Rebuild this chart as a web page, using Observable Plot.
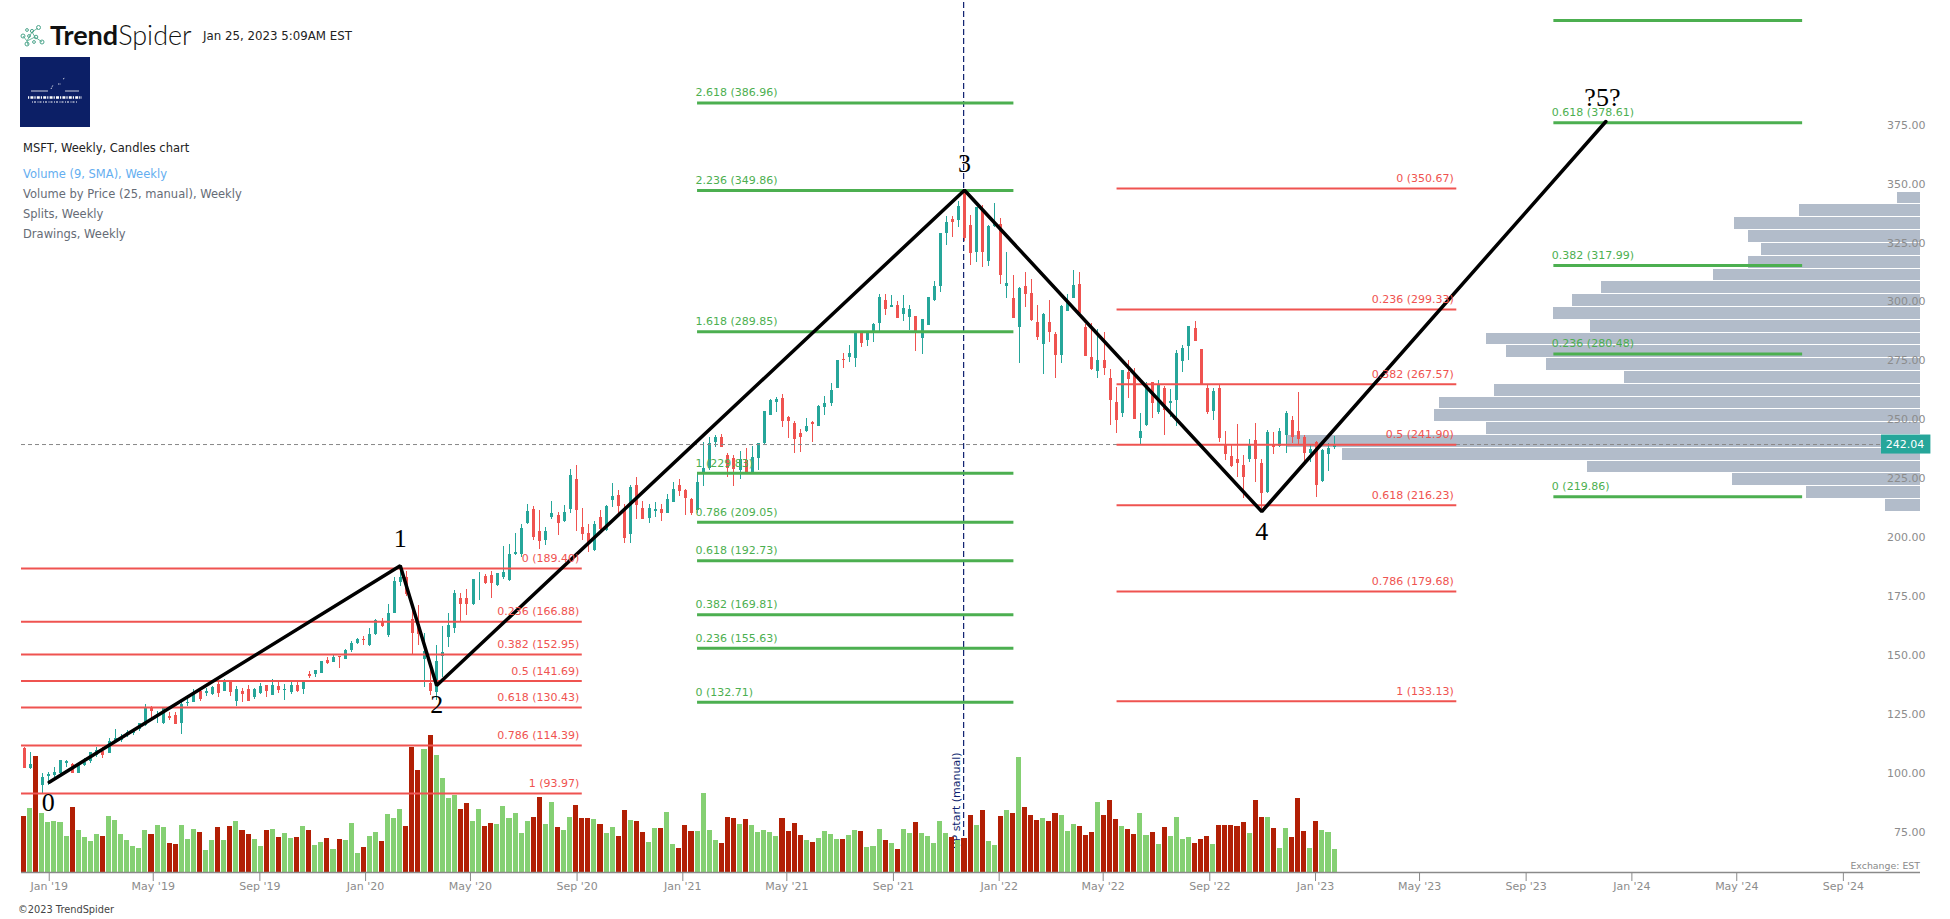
<!DOCTYPE html>
<html>
<head>
<meta charset="utf-8">
<script src="https://cdn.jsdelivr.net/npm/d3@7"></script>
<script src="https://cdn.jsdelivr.net/npm/@observablehq/plot@0.6"></script>
<style>
html,body{margin:0;padding:0;background:#fff;overflow:hidden;width:1950px;height:919px}
#chart{position:absolute;left:0;top:0}
.h{position:absolute;font-family:"DejaVu Sans",sans-serif;font-size:11.5px;white-space:nowrap;line-height:14px}
</style>
</head>
<body>
<div id="chart"></div>
<svg style="position:absolute;left:20px;top:24px" width="28" height="24" viewBox="0 0 28 24">
  <g fill="none" stroke="#4da58c" stroke-width="1">
    <path d="M7 17 L12 8 M12 8 L18 4 M12 8 L15 13 M15 13 L22 18 M15 13 L7 17 M7 17 L8 21 M3 12 L7 17" stroke="#6bb89f"/>
    <circle cx="18.5" cy="3.5" r="2"/><circle cx="7" cy="6" r="1.4"/><circle cx="12" cy="7" r="1.6"/>
    <circle cx="3" cy="12" r="2"/><circle cx="9" cy="12" r="1.4"/><circle cx="16" cy="13" r="1.8"/>
    <circle cx="22" cy="18" r="2"/><circle cx="7" cy="20" r="2"/><circle cx="14" cy="18" r="1.4"/>
  </g>
</svg>
<div class="h" style="left:50px;top:18px;font-family:Lato,sans-serif;font-size:27px;line-height:34px;color:#111"><b style="font-weight:700">Trend</b><span style="font-weight:300">Spider</span></div>
<div class="h" style="left:203px;top:29px;font-size:11.8px;color:#222">Jan 25, 2023 5:09AM EST</div>
<svg style="position:absolute;left:20px;top:57px" width="70" height="70" viewBox="0 0 70 70">
  <rect width="70" height="70" fill="#0c1f66"/>
  <g stroke="#fff" stroke-width="0.8" fill="none">
    <path d="M11 34 H28 M45 34 H59"/>
    <path d="M31 32 L33 28 M38 27 H41 M43 22 L45 21" stroke-dasharray="1.5 1"/>
    <path d="M8 40.5 H62" stroke-width="2.4" stroke-dasharray="1.2 1.2 3 1"/>
    <path d="M12 45 H58" stroke-width="1.2" stroke-dasharray="1 1 2 1.5"/>
  </g>
</svg>
<div class="h" style="left:23px;top:141px;color:#222">MSFT, Weekly, Candles chart</div>
<div class="h" style="left:23px;top:167px;color:#64aef0">Volume (9, SMA), Weekly</div>
<div class="h" style="left:23px;top:187px;color:#666c76">Volume by Price (25, manual), Weekly</div>
<div class="h" style="left:23px;top:207px;color:#666c76">Splits, Weekly</div>
<div class="h" style="left:23px;top:227px;color:#666c76">Drawings, Weekly</div>
<div class="h" style="left:18px;top:903px;font-size:9.8px;color:#444">©2023 TrendSpider</div>
<div class="h" style="right:30px;top:859px;font-size:9.4px;color:#8a8a8a">Exchange: EST</div>
<script>
// ---- weekly candles, Dec 3 2018 to Jan 23 2023
const high = [
113.4,111.4,108,102.6,102.9,105,108,108,106.9,106.6,
108.7,111.4,113.4,113.4,117.3,121.1,118.9,120.7,120.7,123.5,
131.8,130.9,128.9,130.6,128.4,128.5,133.4,135.6,138,138,
138.4,139.4,141.2,142.2,141.9,139.4,138.7,139.8,138.7,140.5,
139.8,142.4,140.9,140.2,140.9,141.4,141.2,145.6,146.2,150,
151.5,152.4,152.1,154.9,158.6,159.6,160.6,163.8,167.7,168.1,
174.2,185.5,190.7,188.2,171.6,173.7,162,146.2,156.8,164.8,
170.2,180,178.7,180.4,184.9,187.9,186.8,188.2,187.5,198.8,
199.6,204.4,208.1,216.6,215.7,214,206.7,217.9,213,216.2,
231.4,233.1,214.8,208.1,209.3,214,216,225.4,222.5,216.6,
224.5,227.9,217.7,216.6,217.4,216.6,220.7,225.8,227,223.1,
219.3,230,242.8,244.9,245.7,246.3,238.1,237.4,239.1,240.4,
241.2,242.6,256,261,261.8,263.3,253.9,251.7,248.3,253.1,
251.7,258.5,262.4,267.8,277.9,280.5,284,289.7,290.1,289.7,
293.2,305.7,305.7,305.3,302.7,305.3,301,296.4,294.9,304.3,
311.2,331.7,338.8,339,345.3,349.8,339.2,342.8,343.5,335,
344.4,337.8,323.7,313.8,308.5,315.2,311.9,301,297.5,303.2,
289.4,301,305.6,315.9,315,293,293.3,290.7,289.7,273.9,
266.4,273.4,277.7,274.2,255.1,268.5,268.4,269.2,266.7,265.4,
281.9,284.1,292.1,294.2,282.4,267.1,265.7,267.1,247.6,241.9,
250.5,237.4,244.2,251,235.7,248,247.1,248.8,256,253.9,
264.1,245.9,242,243.5,239.8,242.3,245.4];
const open = [
112.9,104.5,106.5,97.4,101.2,101.5,102.3,106.7,106.2,102.5,
105.9,107.6,110.1,111.7,111.1,115.9,116.5,118.6,119.6,121,
122.7,130.2,127.1,123.5,126.8,127.1,123.8,132.3,132.7,137.3,
136.6,136.1,140.1,137.4,141.6,133,137.3,138.1,134.7,136.4,
139.8,135.7,139.4,137.8,136.8,139.8,138.1,144.6,144.5,144.9,
150.4,149.7,152.1,150.8,154.5,157.8,159.2,156.8,161.4,166.7,
160.9,170.3,183.5,185.6,167.7,165.9,150.8,140.5,137,152.2,
160.2,164,176.7,176.7,174.2,183.4,186,186.3,182.2,185.5,
184.3,195.2,195.4,208.4,214.5,205,201.3,211.2,211.8,209.4,
214.6,227.2,206.8,204.3,197.1,211.1,205.6,218.3,220.4,214,
203.9,224.5,214.8,210.8,213.8,214.3,212.9,217.6,224.5,222.5,
218.9,214,229.2,231.7,242.8,244.9,237.4,236,231,235.3,
230.3,236.1,242.3,254.5,259.9,261.6,253.4,250.8,246.6,247.6,
251.4,249.8,257.8,259.3,265.9,278,279,278.7,289.7,286.2,
289.7,293.2,303.1,300.3,301,297.2,296.1,296.4,287,292.5,
303.2,309.2,331.4,337.5,337.1,348.7,335,323.7,341.3,319.7,
334.5,335.4,309.2,303.9,291.8,309.1,306,293.7,284.6,294,
288.6,280,298.6,304.1,309.8,291.8,279,273.2,277.7,269.9,
259.7,255.4,272.6,272,244.6,250,268.4,255.8,265.8,259.3,
260.7,277.4,283.6,291.3,282.4,265.8,256,265.8,242,237,
235.7,233.1,235.7,243.8,234,221.6,242,241.2,245.9,252.2,
247.6,245,238.2,243,226.4,237.8,240.8];
const close = [
104.7,106.3,98.2,100.8,102.2,102.9,108,107.6,102.3,106.2,
107.3,111.4,112.4,110.1,116,117.5,117.6,120,120.4,123.5,
130.2,128.9,127.5,130,125.7,123.4,131.8,132.6,136.8,133.9,
137.4,139,136.6,141.9,137,138.1,136.1,133,138,139.4,
137.3,139.8,137.7,138,139.8,137.3,141.2,143.6,146.2,150,
149,151.7,151.8,154.6,157.8,159.2,158.9,161.4,167.4,164.8,
170.3,183.9,185.6,178.4,161.9,161.4,154.2,137.3,150,153.7,
165.1,178.8,174.2,174.2,184.8,183.5,182.9,182.9,187.5,187.9,
195.4,196.4,206.3,213.6,202.4,200.9,205,212.6,208.7,213,
228.9,214.2,203.9,200.2,208.1,205.8,215.7,220,215.7,202.3,
223.7,216.2,210.4,215,214.3,212.9,218.7,222.8,222.3,219.1,
212.6,225.8,231.7,242.3,245.2,240.9,232,231.4,235.5,229.9,
236.7,242.3,256,260.7,261,251.8,251.9,244,244.9,249.7,
250.7,258.2,259.3,264.8,277.7,277.7,280.7,289.4,284.8,289.4,
292.8,304.3,299.3,301,295.6,299.6,299.3,289,294.9,304.3,
309.1,331.7,336.2,336.4,343,329.3,322.9,342.8,323.7,334.6,
336.4,313.8,310.2,295.7,308.2,305.7,294.7,287.6,297.2,289.7,
280,300.6,302.4,309.5,297.5,279.5,273.9,277.7,274.5,260.7,
252.2,273.4,269.6,252.7,247.6,267.5,259.6,267.5,256.5,260.3,
280.7,282.9,292.1,285.8,267.5,255.6,264.5,244.6,237.8,232.7,
234,228,242,235.7,221.3,247.1,240.8,247.6,255.2,245,
244.2,238.2,239.9,224.7,239.5,240.4,242.04];
const low = [
104.5,104,97,94.1,97.5,100.9,102,105,102.3,102.3,
105.4,106.9,109.4,108.8,110.8,115.8,115.6,117.9,118.6,120.4,
122.4,125.7,123.5,123.3,125,123.3,119,130.9,132.5,133,
135.1,135.6,134.9,137.3,135.1,130.9,132.6,133,133.7,136,
134.9,135.4,136.6,133.4,136.1,136.8,136,142.8,143.3,144.8,
148.7,149.4,147,150.7,153.8,157.2,156.9,156.5,161.2,164.5,
160.3,170.2,181.9,177.6,152.5,156.8,139.1,135.6,133.4,143.3,
156.1,162,166.5,169.5,173.9,175.9,182.7,176.8,181.8,184.6,
184.1,195,194,208.1,201.3,197.6,199.2,210.1,203.4,208.9,
212.6,205.3,201.3,196.4,196.8,204.8,205.3,215.5,212.9,199.9,
200.2,210.1,210.1,208.4,211.2,209.5,212.6,217.3,220,211.9,
211.9,212.6,224.4,231,240.9,240.6,228.2,224.4,227.2,229.6,
230,231,242,254.2,255.8,249.4,244.7,238.4,238.8,247.3,
242.8,249.5,254.3,258.2,265.7,274.2,277,274.9,283.3,283.8,
285.3,289,296.9,300,295.4,294.2,290.4,281.6,280.2,292.5,
302.9,306.7,326.5,329.7,334,328.3,318,319.4,317.3,317.6,
334.3,310,304.1,295.4,276.3,300.3,294.4,286.2,271.8,285.5,
269.9,276.3,298.6,303.9,296.8,279.4,273.5,269.9,271.3,250.1,
246.9,253.7,261.4,252.7,241.9,249.7,253.2,254.8,245.9,253.7,
249.7,272.7,277.7,285.6,267.5,254.8,252.2,243,235.3,232.4,
228.2,219.3,234.3,225.9,214.1,221.3,237.8,240.8,238.1,242.3,
242,234.4,234.4,219.6,226.1,230.6,240.1];
// weekly volume bars (relative height, peak week = 412)
const volume = [
169,193,349,178,151,154,151,109,196,127,
106,94,115,109,169,157,115,97,79,73,
127,115,142,136,88,85,142,100,130,121,
67,97,136,97,139,154,127,115,100,79,
127,130,106,118,103,106,139,127,82,91,
103,70,100,97,148,58,76,109,121,94,
175,163,190,139,376,307,370,412,352,283,
223,232,190,208,154,190,139,148,145,199,
163,178,118,154,166,226,145,211,136,127,
166,202,163,163,160,145,118,136,109,187,
157,154,121,91,133,133,181,85,73,142,
124,124,238,127,97,88,166,163,145,160,
142,121,127,121,109,163,124,148,112,97,
91,103,124,115,100,100,112,127,124,76,
79,130,97,88,70,130,118,151,118,109,
88,154,118,106,97,103,172,142,187,94,
82,169,187,178,346,196,172,157,163,154,
178,172,124,145,139,112,121,211,172,217,
160,139,130,115,178,112,121,85,136,109,
166,100,106,88,100,109,85,142,142,142,
139,151,118,217,166,166,133,73,133,106,
223,124,73,154,127,121,70];
// volume by price, 25 rows, top to bottom
const vpFloor = [343.67,338.24,332.81,327.38,321.94,316.51,311.08,305.65,300.22,294.78,289.35,283.92,278.49,273.06,267.62,262.19,256.76,251.33,245.90,240.46,235.03,229.60,224.17,218.73,213.30];
const vpVolume = [56,293,449,416,384,416,499,769,839,886,795,1047,999,903,713,1027,1159,1171,1047,1527,1395,803,453,274,85];
const vpStep = 5.43;
// Fibonacci drawings
const fibRed1 = [["0",189.4],["0.236",166.88],["0.382",152.95],["0.5",141.69],["0.618",130.43],["0.786",114.39],["1",93.97]];
const fibGreen1 = [["2.618",386.96],["2.236",349.86],["1.618",289.85],["1",229.83],["0.786",209.05],["0.618",192.73],["0.382",169.81],["0.236",155.63],["0",132.71]];
const fibRed2 = [["0",350.67],["0.236",299.33],["0.382",267.57],["0.5",241.9],["0.618",216.23],["0.786",179.68],["1",133.13]];
const fibGreen2 = [["0.618",378.61],["0.382",317.99],["0.236",280.48],["0",219.86]];
const fibGreenUnlabeled = [421.9];
const waveDates = ["2019-01-01","2020-02-10","2020-03-23","2021-11-22","2022-10-31","2023-12-02"];
const wavePrices = [98.8,190.6,139.8,349.9,213.6,379.1];
const waveLabels = ["0","1","2","3","4","?5?"];
const waveLabelDates = ["2018-12-31","2020-02-10","2020-03-23","2021-11-22","2022-10-31","2023-11-28"];
const waveLabelPrices = [90.3,202,131.7,361.4,205.1,389.3];
const lastPrice = 242.04;
const yTicks = [75,100,125,150,175,200,225,250,275,300,325,350,375];
const xTicks = ["2019-01-01","2019-05-01","2019-09-01","2020-01-01","2020-05-01","2020-09-01","2021-01-01","2021-05-01","2021-09-01","2022-01-01","2022-05-01","2022-09-01","2023-01-01","2023-05-01","2023-09-01","2024-01-01","2024-05-01","2024-09-01"].map(s=>new Date(s));

const D = s => new Date(s);
const xStart = D("2018-11-30"), xEnd = D("2024-11-29");
const priceFloor = 60.47, priceCeil = 430.43;
const DAY = 864e5;
const weeks = d3.utcMonday.range(D("2018-12-03"), D("2023-01-24"));
const candles = weeks.map((date,i)=>({date,h:high[i],l:low[i],o:open[i],c:close[i],v:volume[i],up:close[i]>=open[i]}));
// secondary axes share the frame: volume rises from the floor, profile extends left from the right edge
const volY = d3.scaleLinear([0,412],[priceFloor,priceFloor+58.27]);
const vpX = d3.scaleLinear([0,1527],[+xEnd,+xEnd-730.5*DAY]);
const vp = vpVolume.map((v,i)=>({v,y1:vpFloor[i],y2:vpFloor[i]+vpStep}));
const red="#ef5350", teal="#26a69a", grn="#4caf50", navy="#0d1f6f", grey="#8c8c8c";
const fibFrame = (rows,x1,x2,color,sw)=>rows.map(([r,p])=>({r,p,x1:D(x1),x2:D(x2),color,sw}));
const r1=fibFrame(fibRed1,"2018-11-30","2020-09-07",red), g1=fibFrame(fibGreen1,"2021-01-18","2022-01-18",grn);
const r2=fibFrame(fibRed2,"2022-05-17","2023-06-13",red), g2=fibFrame(fibGreen2,"2023-10-03","2024-07-16",grn);
const g3=fibGreenUnlabeled.map(p=>({p,x1:D("2023-10-03"),x2:D("2024-07-16")}));
const lab = d=>`${d.r} (${d.p.toFixed(2)})`;
const waves = waveDates.map((d,i)=>({date:D(d),p:wavePrices[i]}));
const waveText = waveLabels.map((t,i)=>({t,date:D(waveLabelDates[i]),p:waveLabelPrices[i]}));
const mon=["Jan","Feb","Mar","Apr","May","Jun","Jul","Aug","Sep","Oct","Nov","Dec"];

const plot = Plot.plot({
  width:1950,height:919,marginTop:0,marginLeft:21,marginRight:25,marginBottom:47,
  style:{fontFamily:"'DejaVu Sans',sans-serif",fontSize:"11px",background:"transparent",overflow:"visible"},
  x:{type:"utc",domain:[xStart,xEnd],range:[21,1920]},
  y:{domain:[priceFloor,priceCeil],range:[872,0]},
  marks:[
    Plot.rect(vp,{x1:()=>xEnd,x2:d=>new Date(vpX(d.v)),y1:"y1",y2:"y2",fill:"#b2bcca",insetBottom:1,shapeRendering:"crispEdges"}),
    Plot.ruleX([D("2021-11-21")],{y1:priceFloor,y2:priceCeil,stroke:navy,strokeWidth:1.2,strokeDasharray:"6,3"}),
    Plot.text(["VP start (manual)"],{x:()=>D("2021-11-13"),y:()=>111.4,text:d=>d,rotate:-90,textAnchor:"end",fill:navy,fontSize:11}),
    Plot.ruleX(candles,{x:"date",y1:"l",y2:"h",stroke:d=>d.up?teal:red,strokeWidth:1,shapeRendering:"crispEdges"}),
    Plot.ruleX(candles,{x:"date",y1:"o",y2:"c",stroke:d=>d.up?teal:red,strokeWidth:3,shapeRendering:"crispEdges"}),
    Plot.rect(candles,{x1:d=>new Date(+d.date-3.5*DAY),x2:d=>new Date(+d.date+3.5*DAY),y1:()=>priceFloor,y2:d=>volY(d.v),fill:d=>d.up?"#85d073":"#b21f05",insetLeft:0.5,insetRight:0.5,shapeRendering:"crispEdges"}),
    Plot.ruleY([priceFloor],{x1:()=>xStart,x2:()=>xEnd,stroke:"#8a8a8a",strokeWidth:1.5}),
    Plot.ruleY([lastPrice],{x1:()=>xStart,x2:()=>D("2024-10-15"),stroke:"#888",strokeWidth:1,strokeDasharray:"4,3"}),
    Plot.ruleY([...r1,...r2],{y:"p",x1:"x1",x2:"x2",stroke:red,strokeWidth:2}),
    Plot.ruleY([...g1,...g2,...g3],{y:"p",x1:"x1",x2:"x2",stroke:grn,strokeWidth:3}),
    Plot.line(waves,{x:"date",y:"p",stroke:"#000",strokeWidth:3.5,strokeLinejoin:"miter"}),
    Plot.text([...r1,...r2],{x:"x2",y:"p",text:lab,textAnchor:"end",dx:-3,dy:-10,fill:red,fontSize:11}),
    Plot.text([...g1,...g2],{x:"x1",y:"p",text:lab,textAnchor:"start",dx:-2,dy:-10,fill:grn,fontSize:11}),
    Plot.text(waveText,{x:"date",y:"p",text:"t",fill:"#000",fontFamily:"'Liberation Serif',serif",fontSize:26}),
    Plot.axisY(yTicks,{anchor:"right",tickSize:0,tickPadding:0,textAnchor:"end",dy:-6,tickFormat:d=>d.toFixed(2),fill:grey,label:null,fontSize:11}),
    Plot.axisX(xTicks,{anchor:"bottom",tickSize:9,tickPadding:1,stroke:"#8a8a8a",fill:grey,label:null,fontSize:11,tickFormat:d=>`${mon[d.getUTCMonth()]} '${String(d.getUTCFullYear()).slice(2)}`}),
    Plot.rect([lastPrice],{x1:()=>D("2024-10-15"),x2:()=>D("2024-12-11"),y1:d=>d-4.03,y2:d=>d+4.03,fill:teal}),
    Plot.text([lastPrice],{x:()=>D("2024-11-11"),y:d=>d,text:d=>d.toFixed(2),fill:"#fff",fontSize:11})
  ]
});
document.getElementById("chart").appendChild(plot);
</script>
</body>
</html>
